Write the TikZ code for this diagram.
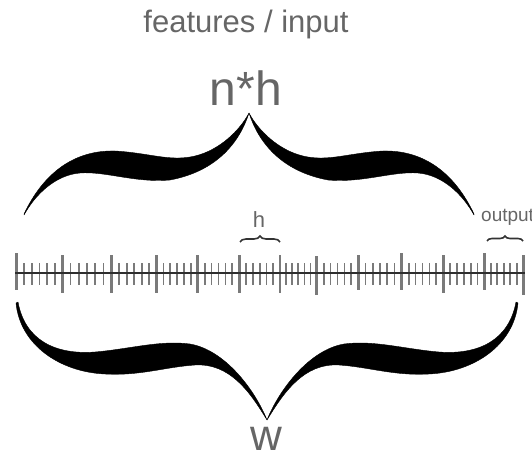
\documentclass[tikz,border=0pt]{standalone}
\usepackage{fontspec}
\setmainfont{Liberation Sans}
\usetikzlibrary{decorations.pathreplacing}
\definecolor{txtgray}{HTML}{666666}
\definecolor{tickgray}{HTML}{7A7A7A}
\definecolor{linegray}{HTML}{2E2E2E}
\definecolor{bracegray}{HTML}{333333}
\newcommand{\TopArmPath}{(24,214) .. controls (44,172) and (75,150) .. (115,151) .. controls (150,153) and (170,162) .. (195,156) .. controls (220,150) and (240,130) .. (249,113) .. controls (240,141) and (218,171) .. (170,180) .. controls (135,183) and (105,171) .. (80,173) .. controls (55,175) and (35,195) .. (24,215) -- cycle}
\newcommand{\BotArmPath}{(18,302) .. controls (25,340) and (55,355) .. (95,352) .. controls (130,349) and (160,340) .. (190,344) .. controls (225,350) and (255,390) .. (267,420) .. controls (250,392) and (230,363) .. (195,365) .. controls (165,367) and (140,376) .. (105,374) .. controls (60,372) and (20,345) .. (16,303) -- cycle}
\begin{document}
\begin{tikzpicture}[x=1pt,y=-1pt,
  lbl/.style={text=txtgray, inner sep=0pt, anchor=base},
  majortick/.style={draw=tickgray, line width=2.6pt},
  minortick/.style={draw=tickgray, line width=1.8pt},
  bigbrace/.style={fill=black, draw=black, line width=0.4pt, line join=round},
  smallbrace/.style={draw=bracegray, line width=1.6pt, decorate, decoration={brace, amplitude=6pt}},
  axisline/.style={draw=linegray, line width=2pt}]
\useasboundingbox (0,0) rectangle (532,457);

% texts
\node[lbl] (title) at (246,33) {\fontsize{31}{36}\selectfont features / input};
\node[lbl] (nh) at (246,106) {\fontsize{48}{54}\selectfont n*h};
\node[lbl] (h) at (259,227) {\fontsize{22}{26}\selectfont h};
\node[lbl, anchor=base west] (out) at (481,221) {\fontsize{19}{22}\selectfont output};
\node[lbl] (w) at (266,450) {\fontsize{44}{50}\selectfont w};

% big braces
\path[bigbrace] \TopArmPath;
\path[bigbrace, shift={(498,0)}, xscale=-1] \TopArmPath;
\path[bigbrace] \BotArmPath;
\path[bigbrace, shift={(534,0)}, xscale=-1] \BotArmPath;

% ruler ticks
\foreach \a/\b in {16.7/62.3, 62.3/111.7, 111.7/156.7, 156.7/197.7, 197.7/239.3, 239.3/280, 280/316.7, 316.7/358.3, 358.3/401.7, 401.7/443.3, 443.3/484.3, 484.3/523.3} {
  \foreach \k in {1,...,5} {
    \path[minortick] ({\a+(\b-\a)*\k/6},263) -- ({\a+(\b-\a)*\k/6},285);
  }
}
\foreach \x/\t/\u in {16.7/253/290, 62.3/255/293, 111.7/255/293, 156.7/255/293, 197.7/255/293, 239.3/255/293, 280/255/293, 316.7/256/295, 358.3/255/290, 401.7/253/290, 443.3/255/293, 484.3/253/290, 523.3/255/295} {
  \path[majortick] (\x,\t) -- (\x,\u);
}
\coordinate (axL) at (15,273);
\coordinate (axR) at (525,273);
\path[axisline] (axL) -- (axR);

% small braces
\coordinate (hL) at (240,242);
\coordinate (hR) at (280,242);
\path[smallbrace] (hL) -- (hR);
\coordinate (oL) at (487,241);
\coordinate (oR) at (523,241);
\path[smallbrace, decoration={brace, amplitude=5pt}] (oL) -- (oR);
\end{tikzpicture}
\end{document}
